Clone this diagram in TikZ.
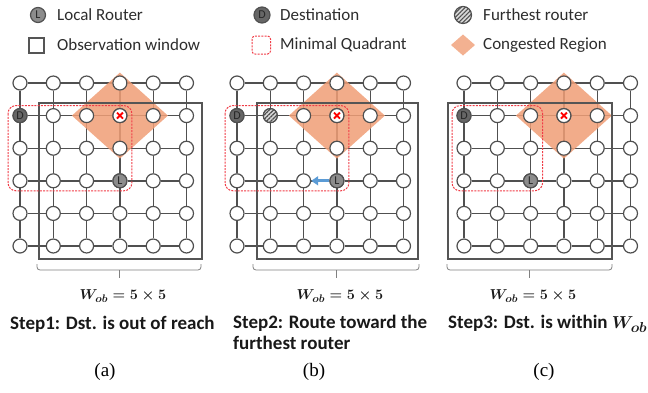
\documentclass[tikz,border=0pt]{standalone}
\usepackage{amsmath}
\usepackage[no-math]{fontspec}
\setmainfont{Carlito}
\newfontfamily\capfont{Liberation Serif}
\usetikzlibrary{arrows.meta,patterns.meta}
\pgfdeclarelayer{bg}
\pgfdeclarelayer{mid}
\pgfsetlayers{bg,mid,main}
\definecolor{gridc}{RGB}{80,80,80}
\definecolor{winc}{RGB}{85,85,85}
\definecolor{congc}{RGB}{240,158,118}
\definecolor{quadc}{RGB}{240,60,70}
\definecolor{arrowc}{RGB}{91,155,213}
\definecolor{txtc}{RGB}{45,45,45}
\definecolor{specc}{RGB}{140,140,140}
\begin{document}
\begin{tikzpicture}[x=1pt,y=-1pt,
  router/.style={circle, draw=gridc, line width=1.2pt, fill=white, minimum size=14pt, inner sep=0pt},
  gridline/.style={draw=gridc, line width=1.4pt},
  special/.style={router, fill=specc, text=black!85, font=\fontsize{12}{12}\selectfont},
  destnode/.style={special, fill=black!60},
  furthest/.style={router, fill=gray!30, postaction={pattern={Lines[angle=45,distance=3pt,line width=1.1pt]}, pattern color=gridc}},
  xnode/.style={router, path picture={
     \draw[red, line width=1.8pt] ([shift={(-3pt,-3pt)}]path picture bounding box.center) -- ([shift={(3pt,3pt)}]path picture bounding box.center);
     \draw[red, line width=1.8pt] ([shift={(-3pt,3pt)}]path picture bounding box.center) -- ([shift={(3pt,-3pt)}]path picture bounding box.center);}},
  window/.style={draw=winc, line width=2.5pt},
  quadrant/.style={draw=quadc, line width=1pt, dash pattern=on 2pt off 1.2pt, rounded corners=8pt},
  congested/.style={fill=congc, fill opacity=0.85, draw=none},
  legtext/.style={anchor=west, text=txtc, font=\fontsize{17}{17}\selectfont, inner sep=0pt},
  steptext/.style={anchor=west, text=black!90, font=\bfseries\fontsize{19}{21}\selectfont, inner sep=0pt, align=left},
  wobtext/.style={text=black!90, font=\fontsize{15}{15}\selectfont\boldmath, inner sep=0pt},
  captext/.style={text=black, font=\capfont\fontsize{19}{19}\selectfont, inner sep=0pt},
  bracestyle/.style={draw=gray, line width=0.8pt, rounded corners=3pt},
  bluearrow/.style={draw=arrowc, line width=3pt, -{Triangle[length=7pt,width=9pt]}}
]
\useasboundingbox (0,0) rectangle (648,392);

% ---------- legend ----------
\node[special, minimum size=15pt] (legL) at (38,15) {L};
\node[legtext] (legLt) at (57,15) {Local Router};
\draw[window, line width=2pt] (29,38) rectangle (43.5,52.5);
\node[legtext] (legWt) at (57,45) {Observation window};
\node[destnode, minimum size=16pt] (legD) at (262,15) {D};
\node[legtext] (legDt) at (280,15) {Destination};
\draw[quadrant, rounded corners=3pt] (252,36) rectangle (270.5,54);
\node[legtext] (legQt) at (280,45) {Minimal Quadrant};
\node[furthest, minimum size=17pt] (legF) at (463,15) {};
\node[legtext] (legFt) at (483,15) {Furthest router};
\fill[congc, fill opacity=0.8] (463,34.5) -- (475,45) -- (463,55.5) -- (451,45) -- cycle;
\node[legtext] (legCt) at (483,45) {Congested Region};

% ---------- grids ----------
\foreach \p/\x in {a/20,b/237,c/464}{
  \foreach \i in {1,...,6}{
    \foreach \j in {1,...,6}{
      \node[router] (\p-\i-\j) at ({\x+(\i-1)*33.3},{83+(\j-1)*32.6}) {};
    }
  }
}
\begin{pgfonlayer}{bg}
\foreach \p in {a,b,c}{
  \foreach \i in {1,...,6}{
    \foreach \j in {1,...,5}{
      \pgfmathtruncatemacro\n{\j+1}
      \draw[gridline] (\p-\i-\j) -- (\p-\i-\n);
      \draw[gridline] (\p-\j-\i) -- (\p-\n-\i);
    }
  }
}
\end{pgfonlayer}
\begin{pgfonlayer}{mid}
\foreach \p in {a,b,c}{
  \fill[congested] ([yshift=43pt]\p-4-2.center) -- ([xshift=48pt]\p-4-2.center) -- ([yshift=-43pt]\p-4-2.center) -- ([xshift=-48pt]\p-4-2.center) -- cycle;
}
\end{pgfonlayer}

% special routers
\foreach \p in {a,b,c}{
  \node[destnode] (\p D) at (\p-1-2) {D};
  \node[xnode] (\p X) at (\p-4-2) {};
}
\node[special] (aL) at (a-4-4) {L};
\node[special] (bL) at (b-4-4) {L};
\node[special] (cL) at (c-3-4) {L};
\node[furthest] (bF) at (b-2-2) {};

% observation windows
\draw[window] (39,103) rectangle (202,259);
\draw[window] (257,103) rectangle (418,259);
\draw[window] (448,103) rectangle (612,259);

% minimal quadrants
\foreach \p in {a,b,c}{
  \draw[quadrant] ([shift={(-12pt,10pt)}]\p D.center) rectangle ([shift={(12pt,-10pt)}]\p L.center);
}

% route arrow
\draw[bluearrow] (bL) -- (b-3-4);

% brackets under the windows
\foreach \l/\r in {37/201,253/419,447/612}{
  \draw[bracestyle] (\l,264) -- (\l,270) -- (\r,270) -- (\r,264);
  \draw[draw=gray, line width=0.8pt] ({(\l+\r)/2},270) -- ({(\l+\r)/2},278);
}
\node[wobtext] (wa) at (123,296) {$W_{ob}=5\times 5$};
\node[wobtext] (wb) at (340,296) {$W_{ob}=5\times 5$};
\node[wobtext] (wc) at (533,296) {$W_{ob}=5\times 5$};

\node[steptext] (sa) at (10,324) {Step1: Dst. is out of reach};
\node[steptext, anchor=north west] (sb) at (233,315) {Step2: Route toward the\\furthest router};
\node[steptext] (sc) at (448,324) {Step3: Dst. is within {\boldmath$W_{ob}$}};

\node[captext] (ca) at (105,372) {(a)};
\node[captext] (cb) at (314,372) {(b)};
\node[captext] (cc) at (544,372) {(c)};
\end{tikzpicture}
\end{document}
